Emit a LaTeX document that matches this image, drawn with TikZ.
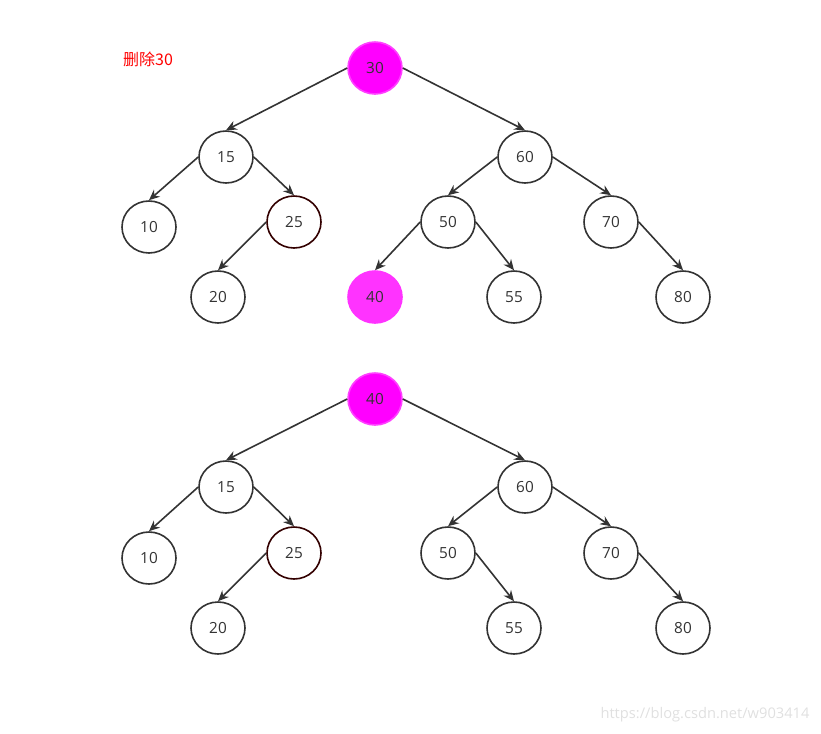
\documentclass[tikz,border=0pt]{standalone}
\usepackage{fontspec}
\setmainfont{Open Sans}
\newfontfamily\cjk{Noto Sans CJK SC}
\usepackage{tikz}
\usetikzlibrary{shapes.geometric,arrows.meta}
\definecolor{edgeGray}{HTML}{333333}
\definecolor{hotPink}{HTML}{FF00FF}
\definecolor{softPink}{HTML}{FF33FF}
\definecolor{rimDark}{HTML}{330000}

\begin{document}
\begin{tikzpicture}[x=0.75pt, y=-0.75pt, font=\fontsize{11.5}{13}\selectfont, >={Stealth[length=8pt,width=7pt]},
          key/.style={draw=edgeGray, ellipse, line width=1.2pt, fill=white, text=edgeGray, minimum width=40.5pt, minimum height=39pt, inner sep=0pt},
          hot/.style={key, draw=hotPink!75!white, fill=hotPink},
          soft/.style={key, draw=softPink, fill=softPink},
          rim/.style={key, draw=rimDark},
          link/.style={->, edgeGray, line width=1.2pt}]
        \useasboundingbox (0,0) rectangle (821,733);
        \node[text=red, font=\fontsize{12}{14}\selectfont] (title) at (148,59) {\cjk 删除30};
        % before deletion
        \node[hot] (a30) at (375,68) {30};
        \node[key] (a15) at (226,157) {15};
        \node[key] (a60) at (525,157) {60};
        \node[key] (a10) at (149,227) {10};
        \node[rim] (a25) at (294,222) {25};
        \node[key] (a50) at (448,222) {50};
        \node[key] (a70) at (611,222) {70};
        \node[key] (a20) at (218,297) {20};
        \node[soft] (a40) at (375,297) {40};
        \node[key] (a55) at (514,297) {55};
        \node[key] (a80) at (683,297) {80};
        \foreach \a/\b in {a30/a15, a15/a10, a25/a20, a60/a50, a50/a40} { \draw[link] (\a.west) -- (\b.north); }
        \foreach \a/\b in {a30/a60, a15/a25, a60/a70, a50/a55, a70/a80} { \draw[link] (\a.east) -- (\b.north); }
        % after deletion
        \node[hot] (b40) at (375,399) {40};
        \node[key] (b15) at (226,487) {15};
        \node[key] (b60) at (525,487) {60};
        \node[key] (b10) at (149,558) {10};
        \node[rim] (b25) at (294,553) {25};
        \node[key] (b50) at (448,553) {50};
        \node[key] (b70) at (611,553) {70};
        \node[key] (b20) at (218,628) {20};
        \node[key] (b55) at (514,628) {55};
        \node[key] (b80) at (683,628) {80};
        \foreach \a/\b in {b40/b15, b15/b10, b25/b20, b60/b50} { \draw[link] (\a.west) -- (\b.north); }
        \foreach \a/\b in {b40/b60, b15/b25, b60/b70, b50/b55, b70/b80} { \draw[link] (\a.east) -- (\b.north); }
        \node[text=black!12, font=\fontsize{11}{13}\selectfont] (mark) at (705,715) {https://blog.csdn.net/w903414};
      \end{tikzpicture}
\end{document}
